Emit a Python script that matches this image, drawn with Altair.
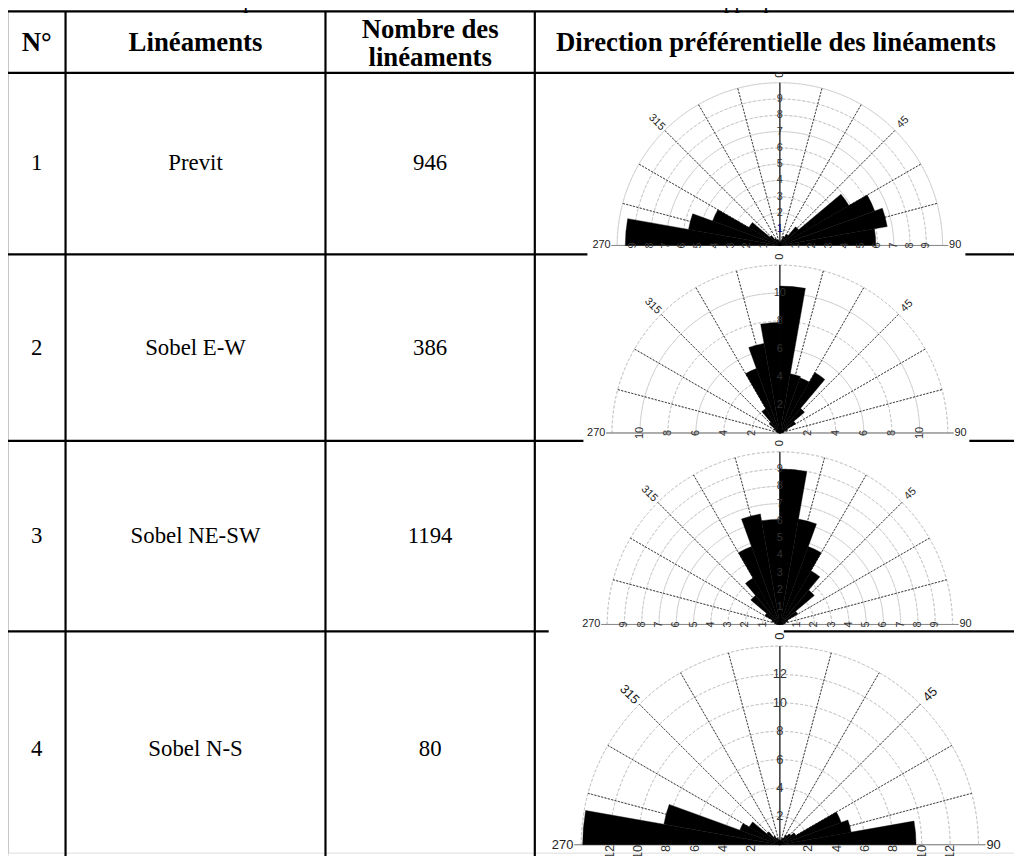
import math
import altair as alt
import pandas as pd

# ---------------- data ----------------
row_numbers = ["1", "2", "3", "4"]
methods = ["Previt", "Sobel E-W", "Sobel NE-SW", "Sobel N-S"]
counts = ["946", "386", "1194", "80"]
header_texts = ["N°", "Linéaments", "Nombre des", "linéaments",
                "Direction préférentielle des linéaments"]
title_bold = "Tableau 1:"
title_rest = "Statistique des linéaments obtenus en fonction de la méthode appliquée"

# direction bins (degrees, -90 = 270°, 0 = N, 90 = E), 10° wide
bin_start = [-90, -80, -70, -60, -50, -40, -30, -20, -10,
             0, 10, 20, 30, 40, 50, 60, 70, 80]
rose_previt = [9.5, 5.7, 4.4, 2.2, 0.8, 0.5, 0.4, 0.3, 0.2,
               0.2, 0.3, 0.6, 0.8, 1.5, 4.9, 6.2, 6.7, 5.9]
rose_sobel_ew = [0.1, 0.2, 0.3, 0.5, 1.0, 2.0, 4.9, 6.5, 7.9,
                 10.5, 4.3, 4.2, 5.0, 2.3, 1.3, 0.6, 0.3, 0.2]
rose_sobel_nesw = [0.2, 0.3, 0.5, 1.0, 2.2, 3.1, 4.8, 6.5, 6.1,
                   9.0, 6.2, 4.8, 3.6, 2.6, 1.2, 0.5, 0.3, 0.2]
rose_sobel_ns = [13.9, 8.3, 3.0, 2.5, 1.2, 0.7, 0.5, 0.4, 0.3,
                 0.3, 0.4, 0.5, 0.8, 1.0, 1.3, 4.6, 5.1, 9.6]

rings_1 = [1, 2, 3, 4, 5, 6, 7, 8, 9, 10]
rings_2 = [2, 4, 6, 8, 10, 12]
rings_3 = [1, 2, 3, 4, 5, 6, 7, 8, 9, 10]
rings_4 = [2, 4, 6, 8, 10, 12, 14]
ticks_1 = [1, 2, 3, 4, 5, 6, 7, 8, 9]
ticks_2 = [2, 4, 6, 8, 10]
ticks_3 = [1, 2, 3, 4, 5, 6, 7, 8, 9]
ticks_4 = [2, 4, 6, 8, 10, 12]
radial_angles = [-75, -60, -45, -30, -15, 15, 30, 45, 60, 75]
direction_labels = ["270", "315", "0", "45", "90"]
direction_angles = [-90, -45, 0, 45, 90]

# ---------------- layout ----------------
PAGE = 8
W, H = 1014, 848
col_edges = [7, 66, 328, 539]
col_centers = [37, 197, 433.5, 782]
row_mid = [161, 347, 537, 752]
hsegs = [(7, 1022, 8), (7, 1022, 70), (7, 592, 253), (973, 1022, 253),
         (7, 588, 441), (977, 1022, 441), (7, 553, 633), (790, 1022, 633)]

xs = alt.Scale(domain=[PAGE, PAGE + W], range=[0, W])
ys = alt.Scale(domain=[PAGE, PAGE + H], range=[0, H])
theta_scale = alt.Scale(domain=[-180, 180], range=[-math.pi, math.pi])
SERIF = "Liberation Serif"
SANS = "Liberation Sans"

layers = []

# table lines
hdf = pd.DataFrame(hsegs, columns=["x", "x2", "y"])
layers.append(alt.Chart(hdf).mark_rule(color="black", strokeWidth=2.2).encode(
    x=alt.X("x:Q", scale=xs, axis=None), x2="x2:Q",
    y=alt.Y("y:Q", scale=ys, axis=None)))
vdf = pd.DataFrame({"x": col_edges, "y": [8] * 4, "y2": [860] * 4})
layers.append(alt.Chart(vdf).mark_rule(color="black", strokeWidth=2.2).encode(
    x=alt.X("x:Q", scale=xs, axis=None),
    y=alt.Y("y:Q", scale=ys, axis=None), y2="y2:Q"))

# header
hd = pd.DataFrame({"x": [37, 197, 433.5, 433.5, 782],
                   "y": [48, 48, 35, 63, 48], "t": header_texts})
layers.append(alt.Chart(hd).mark_text(font=SERIF, fontWeight="bold", fontSize=27,
                                      baseline="alphabetic", color="black").encode(
    x=alt.X("x:Q", scale=xs, axis=None), y=alt.Y("y:Q", scale=ys, axis=None), text="t:N"))

# title (cropped at the top edge, as in the reference)
td = pd.DataFrame({"x": [75, 178], "y": [5, 5], "t": [title_bold, title_rest]})
layers.append(alt.Chart(td.iloc[[0]]).mark_text(font=SERIF, fontWeight="bold", fontSize=22,
                                                align="left", baseline="alphabetic").encode(
    x=alt.X("x:Q", scale=xs, axis=None), y=alt.Y("y:Q", scale=ys, axis=None), text="t:N"))
layers.append(alt.Chart(td.iloc[[1]]).mark_text(font=SERIF, fontSize=22,
                                                align="left", baseline="alphabetic").encode(
    x=alt.X("x:Q", scale=xs, axis=None), y=alt.Y("y:Q", scale=ys, axis=None), text="t:N"))

# body cells
body = []
for i in range(4):
    body.append({"x": col_centers[0], "y": row_mid[i], "t": row_numbers[i]})
    body.append({"x": col_centers[1], "y": row_mid[i], "t": methods[i]})
    body.append({"x": col_centers[2], "y": row_mid[i], "t": counts[i]})
layers.append(alt.Chart(pd.DataFrame(body)).mark_text(font=SERIF, fontSize=23,
                                                      baseline="middle", color="black").encode(
    x=alt.X("x:Q", scale=xs, axis=None), y=alt.Y("y:Q", scale=ys, axis=None), text="t:N"))


def rose(vals, rings, ticks, cx, cy, unit, tick_align, fs, blue_first=False):
    rmax = rings[-1]
    rs = alt.Scale(type="linear", domain=[0, rmax], range=[0, rmax * unit])
    X = alt.value(cx - PAGE)
    Y = alt.value(cy - PAGE)

    def th(field):
        return alt.Theta(field, scale=theta_scale, stack=False)

    parts = []
    ring_df = pd.DataFrame({"r": rings, "t0": -90, "t1": 90})
    parts.append(alt.Chart(ring_df).mark_arc(fillOpacity=0, stroke="#c4c4c4",
                                             strokeWidth=0.8, strokeDash=[3, 2]).encode(
        x=X, y=Y, theta=th("t0:Q"), theta2="t1:Q",
        radius=alt.Radius("r:Q", scale=rs), radius2="r:Q"))
    rad_df = pd.DataFrame({"a": radial_angles, "r": rmax, "r0": 0})
    parts.append(alt.Chart(rad_df).mark_arc(fillOpacity=0, stroke="#333333",
                                            strokeWidth=0.7, strokeDash=[2, 1.5]).encode(
        x=X, y=Y, theta=th("a:Q"), theta2="a:Q",
        radius=alt.Radius("r:Q", scale=rs), radius2="r0:Q"))
    ax_df = pd.DataFrame({"a": [-90, 0, 90], "r": [rmax * 1.035, rmax, rmax * 1.035], "r0": 0,
                          "c": ["#8a8a8a", "#222222", "#8a8a8a"]})
    parts.append(alt.Chart(ax_df).mark_arc(fillOpacity=0, strokeWidth=0.9).encode(
        x=X, y=Y, theta=th("a:Q"), theta2="a:Q",
        radius=alt.Radius("r:Q", scale=rs), radius2="r0:Q",
        stroke=alt.Stroke("c:N", scale=None)))
    pet_df = pd.DataFrame({"t0": bin_start, "t1": [b + 10 for b in bin_start], "r": vals})
    parts.append(alt.Chart(pet_df).mark_arc(color="black", stroke="black", strokeWidth=0.4).encode(
        x=X, y=Y, theta=th("t0:Q"), theta2="t1:Q",
        radius=alt.Radius("r:Q", scale=rs)))
    # value labels along the N axis
    vl = pd.DataFrame({"v": ticks, "t": 0, "lab": [str(v) for v in ticks],
                       "c": ["#000080" if (blue_first and i == 0) else "#333333"
                             for i in range(len(ticks))]})
    parts.append(alt.Chart(vl).mark_text(font=SANS, fontSize=fs, baseline="middle").encode(
        x=X, y=Y, theta=th("t:Q"), radius=alt.Radius("v:Q", scale=rs), text="lab:N",
        color=alt.Color("c:N", scale=None)))
    # value labels along the E-W baseline (rotated)
    hl = pd.DataFrame({"v": ticks + ticks, "t": [-90] * len(ticks) + [90] * len(ticks),
                       "lab": [str(v) for v in ticks] * 2})
    parts.append(alt.Chart(hl).mark_text(font=SANS, fontSize=fs, baseline="middle",
                                         align=tick_align, angle=270, color="#333333").encode(
        x=X, y=Y, theta=th("t:Q"), radius=alt.Radius("v:Q", scale=rs), text="lab:N"))
    # direction labels
    dl = pd.DataFrame({"t": direction_angles, "lab": direction_labels,
                       "v": [rmax * 1.04, rmax * 1.07, rmax * 1.05, rmax * 1.07, rmax * 1.04]})
    for idx, (al, ang) in enumerate([("right", 0), ("center", 45), ("center", 270),
                                     ("center", 315), ("left", 0)]):
        parts.append(alt.Chart(dl.iloc[[idx]]).mark_text(font=SANS, fontSize=fs, baseline="middle",
                                                         align=al, angle=ang, color="#222222").encode(
            x=X, y=Y, theta=th("t:Q"), radius=alt.Radius("v:Q", scale=rs), text="lab:N"))
    return alt.layer(*parts)


layers.append(rose(rose_previt, rings_1, ticks_1, 786, 244, 16.4, "center", 11, blue_first=True))
layers.append(rose(rose_sobel_ew, rings_2, ticks_2, 786, 433, 14.1, "center", 11))
layers.append(rose(rose_sobel_nesw, rings_3, ticks_3, 786, 626, 17.4, "center", 11))
layers.append(rose(rose_sobel_ns, rings_4, ticks_4, 786, 848, 14.3, "right", 13))

chart = alt.layer(*layers).resolve_scale(radius="independent").properties(
    width=W, height=H, autosize=alt.AutoSizeParams(type="none"),
    padding={"left": 0, "right": 0, "top": 0, "bottom": 0}
).configure_view(stroke=None).configure(background="white")

chart.save("out.html", embed_options={"renderer": "svg", "actions": False})
